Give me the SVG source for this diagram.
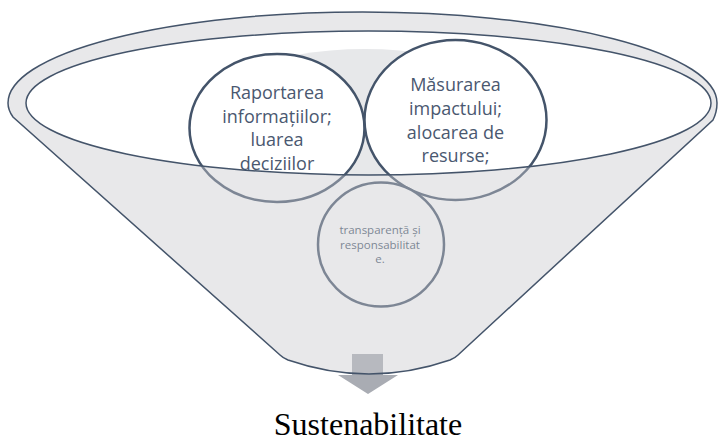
<svg xmlns="http://www.w3.org/2000/svg" width="720" height="442" viewBox="0 0 720 442">
<style>
.ln{fill:none;stroke:#44546A;stroke-width:1.5}
.circ{fill:#FFFFFF;stroke:#44546A;stroke-width:2.5}
.t{font-family:"Open Sans","DejaVu Sans",sans-serif;font-size:18px;fill:#4A5870;text-anchor:middle}
.ts{font-family:"Open Sans","DejaVu Sans",sans-serif;font-size:11.5px;fill:#44546A;text-anchor:middle}
.big{font-family:"Liberation Serif","Times New Roman",serif;font-size:32px;fill:#000000;text-anchor:middle}
</style>
<defs>
<clipPath id="innerClip"><ellipse cx="368.5" cy="103" rx="342.5" ry="72"/></clipPath>
</defs>
<rect width="720" height="442" fill="#FFFFFF"/>
<g id="funnel-inside">
<ellipse cx="368.5" cy="103" rx="342.5" ry="72" fill="#FFFFFF"/>
<ellipse cx="365" cy="125" rx="177" ry="76" fill="#E7E8EA" clip-path="url(#innerClip)"/>
</g>
<g id="connectors">
<path d="M352,354 H383 V375 H398 L368,394 L338,375 H352 Z" fill="#A9ACB3"/>
</g>
<g id="node-raportarea">
<ellipse class="circ" cx="277" cy="128" rx="87.5" ry="74"/>
<text class="t" x="277" y="99">Raportarea</text>
<text class="t" x="277" y="122.5">informațiilor;</text>
<text class="t" x="277" y="146">luarea</text>
<text class="t" x="277" y="169.5">deciziilor</text>
</g>
<g id="node-masurarea">
<ellipse class="circ" cx="455.5" cy="120" rx="91" ry="80"/>
<text class="t" x="455.5" y="91">Măsurarea</text>
<text class="t" x="455.5" y="115">impactului;</text>
<text class="t" x="455.5" y="138.5">alocarea de</text>
<text class="t" x="455.5" y="162">resurse;</text>
</g>
<g id="node-transparenta">
<ellipse class="circ" cx="381" cy="244.5" rx="63" ry="62"/>
<text class="ts" x="380" y="234">transparență și</text>
<text class="ts" x="380" y="248.5">responsabilitat</text>
<text class="ts" x="380" y="263">e.</text>
</g>
<g id="funnel-front">
<path d="M8,103 A354.5,91 0 0 1 717,103 Q717,112 713,120 L458,355 Q455,358 450,360 Q369,388 288,360 Q283,358 280,355 L13,117 Q8,110 8,103 Z M26,103 A342.5,72 0 0 0 711,103 A342.5,72 0 0 0 26,103 Z" fill="#C9CACE" fill-opacity="0.43" fill-rule="evenodd"/>
<path class="ln" d="M8,103 A354.5,91 0 0 1 717,103 Q717,112 713,120 L458,355 Q455,358 450,360 Q369,388 288,360 Q283,358 280,355 L13,117 Q8,110 8,103 Z"/>
<ellipse class="ln" cx="368.5" cy="103" rx="342.5" ry="72"/>
</g>
<g id="node-sustenabilitate">
<text class="big" x="368" y="435">Sustenabilitate</text>
</g>
</svg>
